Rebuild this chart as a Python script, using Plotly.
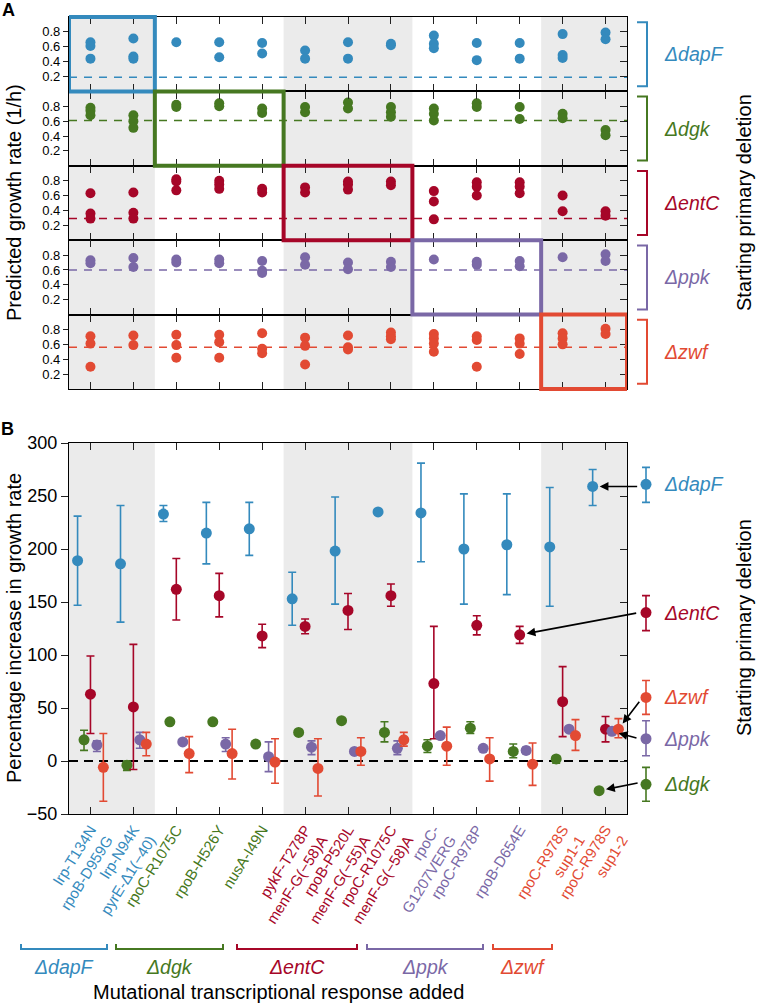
import plotly.graph_objects as go

W, H = 758, 1006
FONT = "Liberation Sans, Arial, sans-serif"

# deletions (rows of panel A, series of panel B) and their colours
deletions = ["dapF", "dgk", "entC", "ppk", "zwf"]
colors = ["#348ABD", "#467821", "#A60628", "#7A68A6", "#E24A33"]

# mutations added (columns) and which deletion group they belong to
mutations = ["lrp-T134N<br>rpoB-D959G", "lrp-N94K<br>pyrE-Δ1(−40)", "rpoC-R1075C", "rpoB-H526Y",
             "nusA-I49N", "pykF-T278P<br>menF-G(−58)A", "rpoB-P520L<br>menF-G(−55)A",
             "rpoC-R1075C<br>menF-G(−58)A", "rpoC-<br>G1207VERG", "rpoC-R978P", "rpoB-D654E",
             "rpoC-R978S<br>sup1-1", "rpoC-R978S<br>sup1-2"]
group_of = [0, 0, 1, 1, 1, 2, 2, 2, 3, 3, 3, 4, 4]

# panel A: predicted growth rates (1/h), several predictions per column
growth_dapF = [[0.66, 0.61, 0.44], [0.71, 0.47, 0.44], [0.66], [0.66, 0.46], [0.65, 0.51], [0.55, 0.44],
               [0.66, 0.44], [0.64, 0.62], [0.75, 0.64, 0.58], [0.65, 0.42], [0.65, 0.44],
               [0.77, 0.49, 0.45], [0.79, 0.70]]
growth_dgk = [[0.78, 0.74, 0.68], [0.68, 0.60, 0.51], [0.82, 0.79], [0.84, 0.80], [0.77, 0.71], [0.79, 0.72],
              [0.85, 0.77], [0.79, 0.72, 0.66], [0.77, 0.70, 0.61], [0.84, 0.79], [0.79, 0.63],
              [0.70, 0.64], [0.48, 0.41]]
growth_entC = [[0.63, 0.36, 0.29], [0.64, 0.37, 0.29], [0.82, 0.79, 0.67], [0.80, 0.75, 0.69], [0.69, 0.64],
               [0.71, 0.64], [0.79, 0.75, 0.68], [0.79, 0.74], [0.66, 0.52, 0.28], [0.78, 0.72, 0.60],
               [0.78, 0.72, 0.63], [0.60, 0.39], [0.39, 0.33]]
growth_ppk = [[0.73, 0.69], [0.76, 0.64], [0.74, 0.70], [0.74, 0.69], [0.72, 0.59, 0.56], [0.77, 0.67],
              [0.70, 0.61], [0.71, 0.64], [0.74], [0.71, 0.67], [0.72, 0.65], [0.77], [0.81, 0.72]]
growth_zwf = [[0.71, 0.61, 0.30], [0.72, 0.59], [0.73, 0.59, 0.42], [0.73, 0.63, 0.42], [0.75, 0.54, 0.48],
              [0.69, 0.58, 0.33], [0.72, 0.56, 0.53], [0.76, 0.71, 0.67], [0.74, 0.68, 0.61, 0.50],
              [0.71, 0.66, 0.30], [0.68, 0.61, 0.47], [0.75, 0.68, 0.60], [0.81, 0.74]]
growth_all = [growth_dapF, growth_dgk, growth_entC, growth_ppk, growth_zwf]
baseline = [0.19, 0.61, 0.29, 0.60, 0.56]

# panel B: percentage increase in growth rate (mean, low, high)
dapF_mean = [189, 186, 233, 215, 219, 153, 198, 235, 234, 200, 204, 202, 259]
dapF_lo = [147, 131, 226, 186, 194, 128, 148, 235, 188, 148, 157, 146, 241]
dapF_hi = [231, 241, 241, 244, 244, 178, 249, 235, 281, 252, 252, 258, 275]
dgk_mean = [20, -4, 37, 37, 16, 27, 38, 27, 14, 31, 9, 2, -28]
dgk_lo = [10, -9, 37, 37, 16, 25, 38, 18, 8, 26, 3, -2, -28]
dgk_hi = [29, 0, 37, 37, 16, 29, 38, 37, 20, 37, 16, 5, -28]
entC_mean = [63, 51, 162, 156, 118, 127, 142, 156, 73, 128, 119, 56, 30]
entC_lo = [26, -8, 133, 136, 107, 120, 124, 146, 21, 119, 111, 23, 18]
entC_hi = [99, 110, 191, 177, 129, 134, 158, 167, 127, 137, 127, 89, 42]
ppk_mean = [15, 20, 18, 16, 4, 13, 9, 12, 24, 12, 10, 30, 28]
ppk_lo = [9, 12, 18, 9, -10, 6, 7, 6, 24, 10, 7, 30, 28]
ppk_hi = [19, 27, 18, 22, 18, 19, 11, 19, 24, 14, 13, 30, 28]
zwf_mean = [-6, 16, 7, 7, -1, -7, 9, 20, 14, 2, -3, 24, 30]
zwf_lo = [-38, 5, -11, -17, -21, -33, -4, 14, -4, -19, -23, 10, 22]
zwf_hi = [26, 27, 23, 30, 21, 21, 22, 27, 32, 22, 17, 39, 40]
means = [dapF_mean, dgk_mean, entC_mean, ppk_mean, zwf_mean]
lows = [dapF_lo, dgk_lo, entC_lo, ppk_lo, zwf_lo]
highs = [dapF_hi, dgk_hi, entC_hi, ppk_hi, zwf_hi]
dodge = [-0.3, -0.15, 0, 0.15, 0.3]

# starting strains (shown to the right of panel B)
start_mean = [261, -22, 140, 21, 60]
start_lo = [244, -38, 123, 5, 44]
start_hi = [277, -6, 156, 38, 76]
arrow_target = [12, 12, 10, 12, 12]
arrow_offset = [(46, 0), (40, -8), (118, -22), (26, 7), (22, -29)]


def px(x):
    return x / W


def py(y):
    return 1 - y / H


def ax_name(letter, n):
    return f"{letter}axis" if n == 1 else f"{letter}axis{n}"


def ref(letter, n):
    return letter if n == 1 else f"{letter}{n}"


fig = go.Figure()
layout = {}
shapes = []
annotations = []
ncol = len(mutations)
xdom = [px(69), px(627)]
line_common = dict(showline=True, linecolor="black", linewidth=1.2, showgrid=False, zeroline=False,
                   automargin=False)
LBL = 19.5
mid = dict(xanchor="center", yanchor="middle", showarrow=False)

# ---------- panel A ----------
row_h = (389 - 17) / 5
for i in range(5):
    n = i + 1
    top = 17 + i * row_h
    bot = top + row_h
    layout[ax_name("x", n)] = dict(domain=xdom, range=[-0.5, ncol - 0.5], anchor=ref("y", n),
                                   tickvals=list(range(ncol)), showticklabels=False, ticks="inside",
                                   ticklen=7, tickcolor="#222", mirror="ticks", **line_common)
    layout[ax_name("y", n)] = dict(domain=[py(bot), py(top)], range=[0, 1.0], anchor=ref("x", n),
                                   tickvals=[0.2, 0.4, 0.6, 0.8], tickformat=".1f", ticks="outside",
                                   ticklen=5, tickcolor="#222", mirror=True,
                                   tickfont=dict(size=13, color="black"), **line_common)
    # right-hand inside ticks
    layout[ax_name("y", 7 + i)] = dict(overlaying=ref("y", n), side="right", anchor=ref("x", n),
                                       range=[0, 1.0], tickvals=[0.2, 0.4, 0.6, 0.8], ticks="inside",
                                       ticklen=7, tickcolor="#222", showticklabels=False,
                                       showgrid=False, zeroline=False, showline=False, automargin=False)
    fig.add_trace(go.Scatter(x=[], y=[], xaxis=ref("x", n), yaxis=ref("y", 7 + i), showlegend=False))

    xs, ys = [], []
    for c, vals in enumerate(growth_all[i]):
        xs += [c] * len(vals)
        ys += vals
    fig.add_trace(go.Scatter(x=xs, y=ys, mode="markers", xaxis=ref("x", n), yaxis=ref("y", n),
                             marker=dict(size=10, color=colors[i]), showlegend=False))

    # grey shading for alternate groups
    for g in range(5):
        if g % 2 == 0:
            cols = [c for c in range(ncol) if group_of[c] == g]
            shapes.append(dict(type="rect", xref=ref("x", n), yref=f"{ref('y', n)} domain",
                               x0=cols[0] - 0.5, x1=cols[-1] + 0.5, y0=0, y1=1,
                               fillcolor="#ebebeb", line_width=0, layer="below"))
    shapes.append(dict(type="line", xref=f"{ref('x', n)} domain", yref=ref("y", n), x0=0, x1=1,
                       y0=baseline[i], y1=baseline[i], layer="below",
                       line=dict(color=colors[i], width=1.5, dash="8px,7px")))
    # highlight box for own group
    cols = [c for c in range(ncol) if group_of[c] == i]
    shapes.append(dict(type="rect", xref=ref("x", n), yref=f"{ref('y', n)} domain",
                       x0=cols[0] - 0.5, x1=cols[-1] + 0.5, y0=0, y1=1, layer="above",
                       line=dict(color=colors[i], width=4)))
    # bracket + label on the right
    shapes.append(dict(type="path", xref="paper", yref=f"{ref('y', n)} domain",
                       path=f"M {px(637)},0.07 L {px(647)},0.07 L {px(647)},0.93 L {px(637)},0.93",
                       line=dict(color=colors[i], width=2)))
    annotations.append(dict(xref="paper", yref=f"{ref('y', n)} domain", x=px(662), y=0.5,
                            xanchor="left", yanchor="middle", showarrow=False,
                            text=f"<i>Δ{deletions[i]}</i>",
                            font=dict(size=LBL, color=colors[i], family=FONT)))

# ---------- panel B ----------
ticktext = []
for c, m in enumerate(mutations):
    col = colors[group_of[c]]
    ticktext.append("<br>".join(f'<span style="color:{col}">{p}</span>' for p in m.split("<br>")))

layout["xaxis6"] = dict(domain=xdom, range=[-0.5, ncol - 0.5], anchor="y6", tickvals=list(range(ncol)),
                        ticktext=ticktext, tickangle=-58, ticks="inside", ticklen=7, tickcolor="#222",
                        mirror="ticks", tickfont=dict(size=15), **line_common)
layout["yaxis6"] = dict(domain=[py(814), py(443)], range=[-50, 300], anchor="x6",
                        tickvals=[-50, 0, 50, 100, 150, 200, 250, 300], ticks="outside", ticklen=7,
                        tickcolor="#222", mirror=True, tickfont=dict(size=18, color="black"), **line_common)
layout["yaxis12"] = dict(overlaying="y6", side="right", anchor="x6", range=[-50, 300],
                         tickvals=[-50, 0, 50, 100, 150, 200, 250, 300], ticks="inside", ticklen=7,
                         tickcolor="#222", showticklabels=False, showgrid=False, zeroline=False,
                         showline=False, automargin=False)
fig.add_trace(go.Scatter(x=[], y=[], xaxis="x6", yaxis="y12", showlegend=False))
layout["xaxis7"] = dict(domain=[px(636), px(656)], range=[-1, 1], anchor="y6", visible=False,
                        automargin=False)

for g in range(5):
    if g % 2 == 0:
        cols = [c for c in range(ncol) if group_of[c] == g]
        shapes.append(dict(type="rect", xref="x6", yref="y6 domain", x0=cols[0] - 0.5, x1=cols[-1] + 0.5,
                           y0=0, y1=1, fillcolor="#ebebeb", line_width=0, layer="below"))
shapes.append(dict(type="line", xref="x6 domain", yref="y6", x0=0, x1=1, y0=0, y1=0, layer="below",
                   line=dict(color="black", width=1.8, dash="9px,6px")))

err_style = dict(type="data", symmetric=False, thickness=1.6, width=4)
for i in range(5):
    xs = [c + dodge[i] for c in range(ncol)]
    fig.add_trace(go.Scatter(
        x=xs, y=means[i], mode="markers", xaxis="x6", yaxis="y6", showlegend=False,
        marker=dict(size=11, color=colors[i]),
        error_y=dict(array=[h - m for h, m in zip(highs[i], means[i])],
                     arrayminus=[m - l for m, l in zip(means[i], lows[i])], color=colors[i], **err_style)))
    fig.add_trace(go.Scatter(
        x=[0], y=[start_mean[i]], mode="markers", xaxis="x7", yaxis="y6", showlegend=False,
        marker=dict(size=11, color=colors[i]),
        error_y=dict(array=[start_hi[i] - start_mean[i]], arrayminus=[start_mean[i] - start_lo[i]],
                     color=colors[i], **err_style)))
    annotations.append(dict(xref="paper", yref="y6", x=px(662), y=start_mean[i], xanchor="left",
                            yanchor="middle", showarrow=False, text=f"<i>Δ{deletions[i]}</i>",
                            font=dict(size=LBL, color=colors[i], family=FONT)))
    t = arrow_target[i]
    annotations.append(dict(xref="x6", yref="y6", x=t + dodge[i], y=means[i][t], ax=arrow_offset[i][0],
                            ay=arrow_offset[i][1], showarrow=True, arrowhead=2, arrowsize=1.1,
                            arrowwidth=1.6, arrowcolor="black", standoff=7, text=""))

# bottom group brackets
brackets = [(21, 107), (116, 223), (237, 357), (367, 483), (493, 552)]
for i, (x0, x1) in enumerate(brackets):
    shapes.append(dict(type="path", xref="paper", yref="paper",
                       path=f"M {px(x0)},{py(944)} L {px(x0)},{py(949)} L {px(x1)},{py(949)} L {px(x1)},{py(944)}",
                       line=dict(color=colors[i], width=2)))
    annotations.append(dict(xref="paper", yref="paper", x=px((x0 + x1) / 2), y=py(967),
                            text=f"<i>Δ{deletions[i]}</i>", font=dict(size=LBL, color=colors[i], family=FONT),
                            **mid))

# titles and panel letters
txt = dict(xref="paper", yref="paper", font=dict(size=20, color="black", family=FONT), **mid)
letter = dict(xref="paper", yref="paper", font=dict(size=18, color="black", family=FONT), **mid)
annotations += [
    dict(x=px(8), y=py(10), text="<b>A</b>", **letter),
    dict(x=px(7), y=py(429), text="<b>B</b>", **letter),
    dict(x=px(14), y=py(203), text="Predicted growth rate (1/h)", textangle=-90, **txt),
    dict(x=px(14), y=py(628), text="Percentage increase in growth rate", textangle=-90, **txt),
    dict(x=px(744), y=py(203), text="Starting primary deletion", textangle=-90, **txt),
    dict(x=px(744), y=py(628), text="Starting primary deletion", textangle=-90, **txt),
    dict(x=px(278), y=py(992), text="Mutational transcriptional response added", **txt),
]

fig.update_layout(width=W, height=H, margin=dict(l=0, r=0, t=0, b=0), paper_bgcolor="white",
                  plot_bgcolor="white", font=dict(family=FONT, color="black"), showlegend=False,
                  shapes=shapes, annotations=annotations, **layout)
fig.write_html("out.html", config={"displayModeBar": False},
               post_script="document.body.style.margin='0px';")
